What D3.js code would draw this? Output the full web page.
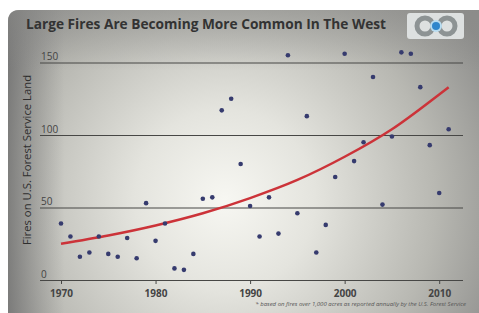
<!DOCTYPE html>
<html>
<head>
<meta charset="utf-8">
<script src="https://cdn.jsdelivr.net/npm/d3@7"></script>
<style>
  body { margin:0; background:#fff; }
  svg { display:block; font-family:"Open Sans", sans-serif; }
</style>
</head>
<body>
<div id="chart"></div>
<script>
var fullWidth = 479;
var fullHeight = 313;

// fires per year
var years = [1970,1971,1972,1973,1974,1975,1976,1977,1978,1979,
             1980,1981,1982,1983,1984,1985,1986,1987,1988,1989,
             1990,1991,1992,1993,1994,1995,1996,1997,1998,1999,
             2000,2001,2002,2003,2004,2005,2006,2007,2008,2009,
             2010,2011];
var fires = [39,30,16,19,30,18,16,29,15,53,
             27,39,8,7,18,56,57,117,125,80,
             51,30,57,32,155,46,113,19,38,71,
             156,82,95,140,52,99,157,156,133,93,
             60,104];

// red trend line, read at a few points
var trendYears = [1970,1975,1980,1985,1990,1995,2000,2005,2010,2011];
var trendVals  = [25,30.7,37.6,46,56.5,69,85,104,128,133];

var yTicks = [0,50,100,150];
var xTicks = [1970,1980,1990,2000,2010];

var svg = d3.select("#chart").append("svg")
            .attr("width", fullWidth)
            .attr("height", fullHeight);

var defs = svg.append("defs");
var rg = defs.append("radialGradient").attr("id","spot")
             .attr("gradientUnits","userSpaceOnUse")
             .attr("cx",225).attr("cy",200).attr("r",300);
rg.append("stop").attr("offset","0").attr("stop-color","#f7f7f2");
rg.append("stop").attr("offset","0.3").attr("stop-color","#e4e4de");
rg.append("stop").attr("offset","0.7").attr("stop-color","#b8b8b2");
rg.append("stop").attr("offset","1").attr("stop-color","#8e8e8c");

var lg = defs.append("linearGradient").attr("id","leftshade")
             .attr("x1",0).attr("x2",1).attr("y1",0).attr("y2",0);
lg.append("stop").attr("offset","0").attr("stop-color","#6c6c6c").attr("stop-opacity",0.75);
lg.append("stop").attr("offset","0.12").attr("stop-color","#808080").attr("stop-opacity",0);

var tg = defs.append("linearGradient").attr("id","topshade")
             .attr("x1",0).attr("x2",0).attr("y1",0).attr("y2",1);
tg.append("stop").attr("offset","0").attr("stop-color","#8a8a88").attr("stop-opacity",0.55);
tg.append("stop").attr("offset","0.2").attr("stop-color","#8a8a88").attr("stop-opacity",0);

var card = "M8,22 Q8,10 20,10 L479,10 L479,313 L8,313 Z";
svg.append("path").attr("d",card).attr("fill","url(#spot)");
svg.append("path").attr("d",card).attr("fill","url(#leftshade)");
svg.append("path").attr("d",card).attr("fill","url(#topshade)");

// title
svg.append("text")
   .attr("x",26).attr("y",29)
   .attr("font-size",13.7).attr("font-weight","bold")
   .attr("fill","#333")
   .text("Large Fires Are Becoming More Common In The West");

// logo
var logo = svg.append("g");
logo.append("rect").attr("x",407).attr("y",13).attr("width",57).attr("height",26)
    .attr("rx",3).attr("fill","#dde0e0");
logo.append("circle").attr("cx",425).attr("cy",26).attr("r",8)
    .attr("fill","none").attr("stroke","#8d9394").attr("stroke-width",5);
logo.append("circle").attr("cx",447).attr("cy",26).attr("r",8)
    .attr("fill","none").attr("stroke","#8d9394").attr("stroke-width",5);
logo.append("circle").attr("cx",436).attr("cy",26).attr("r",6).attr("fill","#b8dcf0");
logo.append("circle").attr("cx",436).attr("cy",26).attr("r",4).attr("fill","#2f86cc");

var x = d3.scaleLinear().domain([1970,2010]).range([61,439.2]);
var y = d3.scaleLinear().domain([0,150]).range([280,62.5]);

// y gridlines + labels
var yAxis = d3.axisRight(y).tickValues(yTicks).tickSize(423).tickFormat(d3.format("d"));
var gy = svg.append("g").attr("transform","translate(40,0)").call(yAxis);
gy.select(".domain").remove();
gy.selectAll(".tick line").attr("stroke","#474745").attr("stroke-width",1);
gy.selectAll(".tick text")
  .attr("x",1).attr("dy",-3).attr("text-anchor","start")
  .attr("font-size",10).attr("fill","#444")
  .attr("font-family","Open Sans, sans-serif");

// x axis
var xAxis = d3.axisBottom(x).tickValues(xTicks).tickSize(4).tickPadding(6).tickFormat(d3.format("d"));
var gx = svg.append("g").attr("transform","translate(0,280)").call(xAxis);
gx.select(".domain").remove();
gx.selectAll(".tick line").attr("stroke","#474745");
gx.selectAll(".tick text")
  .attr("font-size",10).attr("font-weight","bold").attr("fill","#444")
  .attr("font-family","Open Sans, sans-serif");

// y title
svg.append("text")
   .attr("transform","translate(31,160) rotate(-90)")
   .attr("text-anchor","middle")
   .attr("font-size",11.3).attr("fill","#2e2e2e")
   .text("Fires on U.S. Forest Service Land");

// trend
var line = d3.line().x(function(d,i){ return x(trendYears[i]); })
             .y(function(d){ return y(d); })
             .curve(d3.curveMonotoneX);
svg.append("path").datum(trendVals)
   .attr("d",line).attr("fill","none")
   .attr("stroke","#cc3339").attr("stroke-width",2.5);

// dots
svg.selectAll(".dot").data(fires).enter().append("circle")
   .attr("class","dot")
   .attr("cx",function(d,i){ return x(years[i]); })
   .attr("cy",function(d){ return y(d); })
   .attr("r",2.3)
   .attr("fill","#363b6e");

// footnote
svg.append("text")
   .attr("x",466).attr("y",306).attr("text-anchor","end")
   .attr("font-size",6).attr("font-style","italic").attr("fill","#555")
   .text("* based on fires over 1,000 acres as reported annually by the U.S. Forest Service");
</script>
</body>
</html>
